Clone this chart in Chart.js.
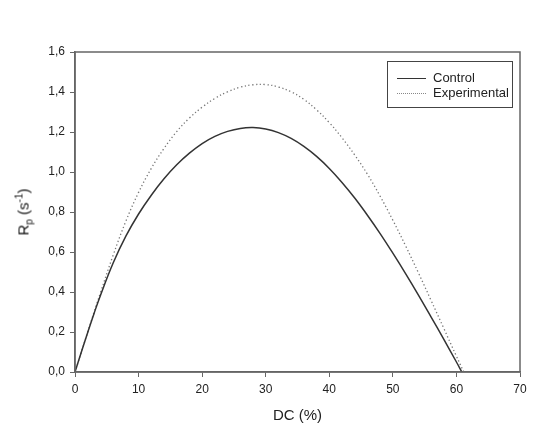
<!DOCTYPE html>
<html>
<head>
<meta charset="utf-8">
<script src="https://cdn.jsdelivr.net/npm/chart.js@4"></script>
<style>
  body { margin: 0; background: #fff; font-family: "Liberation Sans", Arial, sans-serif; }
  #wrap { position: relative; width: 553px; height: 425px; }
  #ytitle {
    position: absolute; left: 24px; top: 212px;
    transform: translate(-50%, -50%) rotate(-90deg);
    font-size: 15px; color: #111; white-space: nowrap; font-weight: normal;
  }
  #ytitle sub, #ytitle sup { font-size: 10px; }
  #legend {
    position: absolute; left: 387px; top: 61px; width: 126px; height: 47px;
    border: 1px solid #444; font-size: 13px; color: #222; box-sizing: border-box;
  }
  .row { position: absolute; left: 9px; height: 16px; line-height: 16px; }
  .sample { position: absolute; left: 0; top: 8px; width: 29px; }
  .lbl { position: absolute; left: 36px; top: 0; white-space: nowrap; }
</style>
</head>
<body>
<div id="wrap">
  <canvas id="graphe" width="553" height="425"></canvas>
  <div id="ytitle">R<sub>p</sub> (s<sup>-1</sup>)</div>
  <div id="legend">
    <div class="row" style="top:8px"><div class="sample" style="border-top:1px solid #333"></div><span class="lbl">Control</span></div>
    <div class="row" style="top:23px"><div class="sample" style="border-top:1px dotted #888"></div><span class="lbl">Experimental</span></div>
  </div>
</div>
<script>
  // valeurs
  const dcControl = [0, 1, 2, 3, 4, 6, 8, 10, 12, 14, 16, 18, 20, 22, 24, 26, 28, 30, 32, 34, 36, 38, 40, 42, 44, 46, 48, 50, 52, 54, 56, 58, 60, 60.85];
  const rpControl = [0, 0.1, 0.198, 0.293, 0.383, 0.545, 0.679, 0.79, 0.884, 0.966, 1.036, 1.094, 1.142, 1.178, 1.203, 1.218, 1.222, 1.215, 1.197, 1.168, 1.128, 1.078, 1.018, 0.948, 0.870, 0.784, 0.692, 0.594, 0.492, 0.386, 0.276, 0.164, 0.05, 0];

  const dcExp = [0, 1, 2, 3, 4, 6, 8, 10, 12, 14, 16, 18, 20, 22, 24, 26, 28, 30, 32, 34, 36, 38, 40, 42, 44, 46, 48, 50, 52, 54, 56, 58, 60, 61.15];
  const rpExp = [0, 0.1, 0.2, 0.299, 0.396, 0.584, 0.754, 0.898, 1.018, 1.118, 1.202, 1.27, 1.324, 1.368, 1.401, 1.424, 1.436, 1.437, 1.425, 1.401, 1.363, 1.311, 1.247, 1.171, 1.085, 0.989, 0.879, 0.759, 0.631, 0.497, 0.359, 0.219, 0.079, 0];

  const xMin = 0, xMax = 70, xStep = 10;
  const yMin = 0, yMax = 1.6, yStep = 0.2;

  const pts = (xs, ys) => xs.map((x, i) => ({ x: x, y: ys[i] }));

  // cadre autour de la zone de tracé
  const cadre = {
    id: 'cadre',
    afterDraw(chart) {
      const a = chart.chartArea, c = chart.ctx;
      c.save();
      c.strokeStyle = '#666';
      c.lineWidth = 1.5;
      c.strokeRect(a.left, a.top, a.right - a.left, a.bottom - a.top);
      c.restore();
    }
  };

  const ctx = document.getElementById('graphe').getContext('2d');
  new Chart(ctx, {
    type: 'scatter',
    data: {
      datasets: [
        {
          label: 'Control',
          data: pts(dcControl, rpControl),
          showLine: true,
          borderColor: '#333',
          borderWidth: 1.5,
          pointRadius: 0,
          tension: 0.4
        },
        {
          label: 'Experimental',
          data: pts(dcExp, rpExp),
          showLine: true,
          borderColor: '#777',
          borderWidth: 1.3,
          borderDash: [1.3, 2.5],
          pointRadius: 0,
          tension: 0.4
        }
      ]
    },
    options: {
      responsive: false,
      animation: false,
      layout: { padding: { top: 52, right: 33, left: 0, bottom: 0 } },
      plugins: { legend: { display: false }, tooltip: { enabled: false } },
      scales: {
        x: {
          type: 'linear',
          min: xMin, max: xMax,
          ticks: { stepSize: xStep, color: '#222', padding: 5, font: { size: 12, family: 'Liberation Sans' } },
          grid: { drawOnChartArea: false, tickLength: 5, color: '#666' },
          border: { color: '#666', width: 1.5 },
          title: { display: true, text: 'DC (%)', color: '#222', font: { size: 15, family: 'Liberation Sans' }, padding: { top: 0, bottom: 0 } },
          afterFit(s) { s.height = 53; }
        },
        y: {
          min: yMin, max: yMax,
          ticks: {
            stepSize: yStep, color: '#222', padding: 5,
            font: { size: 12, family: 'Liberation Sans' },
            callback: v => v.toFixed(1).replace('.', ',')
          },
          grid: { drawOnChartArea: false, tickLength: 5, color: '#666' },
          border: { color: '#666', width: 1.5 },
          afterFit(s) { s.width = 75; }
        }
      }
    },
    plugins: [cadre]
  });
</script>
</body>
</html>
